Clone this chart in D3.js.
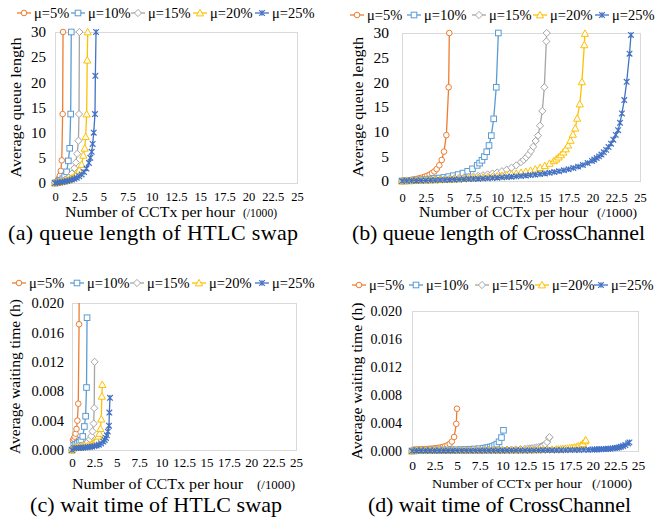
<!DOCTYPE html>
<html lang="en">
<head>
<meta charset="UTF-8" />
<title>Queue length and waiting time: HTLC swap vs CrossChannel</title>
<script src="https://d3js.org/d3.v7.min.js"></script>
<style>
  body { margin: 0; background: #fff; }
  svg { display: block; }
  text { fill: #000; font-family: "Liberation Serif", "Times New Roman", serif; }
  .frame { fill: none; stroke: #d9d9d9; stroke-width: 1; }
</style>
</head>
<body>
<svg id="chart" width="656" height="521" font-family="Liberation Serif"></svg>
<script>
// series names / colours (Excel default palette)
const seriesNames = ["μ=5%", "μ=10%", "μ=15%", "μ=20%", "μ=25%"];
const seriesColors = ["#ED7D31", "#5B9BD5", "#A5A5A5", "#FFC000", "#4472C4"];
const seriesShapes = ["circle", "square", "diamond", "triangle", "star"];

const xTicks = [0, 2.5, 5, 7.5, 10, 12.5, 15, 17.5, 20, 22.5, 25];
const queueTicks = [0, 5, 10, 15, 20, 25, 30];
const waitTicks = [0, 0.004, 0.008, 0.012, 0.016, 0.020];

// ---- HTLC swap: x = CCTx per hour (/1000), Q = avg queue length, W = avg waiting time (h)
const htlcX5 = [0, 0.1, 0.2, 0.3, 0.4, 0.5, 0.6, 0.7, 0.79, 0.83];
const htlcQ5 = [0, 0.13, 0.31, 0.55, 0.89, 1.43, 2.4, 4.5, 13.7, 30];
const htlcW5 = [0, 0.00133, 0.00154, 0.00182, 0.00222, 0.00286, 0.0040, 0.0063, 0.0171, 0.036];

const htlcX10 = [0, 0.2, 0.4, 0.6, 0.8, 1.0, 1.2, 1.38, 1.52, 1.62, 1.68];
const htlcQ10 = [0, 0.13, 0.30, 0.53, 0.85, 1.35, 2.22, 4.4, 6.9, 13.7, 30];
const htlcW10 = [0, 0.00065, 0.00075, 0.00088, 0.00106, 0.00135, 0.00185, 0.0032, 0.0046, 0.0085, 0.0180];

const htlcX15 = [0, 0.25, 0.5, 0.75, 1.0, 1.25, 1.5, 1.75, 2.0, 2.15, 2.29, 2.42, 2.48, 2.52];
const htlcQ15 = [0, 0.10, 0.23, 0.39, 0.60, 0.87, 1.27, 1.88, 2.94, 4.06, 5.8, 8.4, 13.7, 30];
const htlcW15 = [0, 0.00041, 0.00046, 0.00052, 0.0006, 0.0007, 0.00085, 0.00107, 0.00147, 0.00189, 0.00253, 0.0036, 0.0057, 0.012];

const htlcX20 = [0, 0.25, 0.5, 0.75, 1.0, 1.25, 1.5, 1.75, 2.0, 2.25, 2.5, 2.75, 2.93, 3.07, 3.17, 3.27, 3.33, 3.38];
const htlcQ20 = [0, 0.08, 0.17, 0.27, 0.40, 0.56, 0.75, 1.0, 1.33, 1.8, 2.5, 3.67, 5.5, 6.9, 9.2, 13.7, 24.4, 30];
const htlcW20 = [0, 0.00031, 0.00033, 0.00036, 0.0004, 0.00044, 0.0005, 0.00057, 0.00067, 0.0008, 0.001, 0.00133, 0.00188, 0.00225, 0.0029, 0.0042, 0.0073, 0.0089];

const htlcX25 = [0, 0.25, 0.5, 0.75, 1.0, 1.25, 1.5, 1.75, 2.0, 2.25, 2.5, 2.75, 3.0, 3.25, 3.5, 3.65, 3.79, 3.89, 4.0, 4.13, 4.17, 4.24];
const htlcQ25 = [0, 0.06, 0.13, 0.21, 0.30, 0.40, 0.52, 0.67, 0.84, 1.06, 1.33, 1.69, 2.17, 2.88, 3.98, 5.0, 6.2, 7.75, 10, 13.7, 21.3, 30];
const htlcW25 = [0, 0.00024, 0.00026, 0.00028, 0.0003, 0.00032, 0.00035, 0.00038, 0.00042, 0.00047, 0.00053, 0.00061, 0.00072, 0.00089, 0.00114, 0.00137, 0.00164, 0.002, 0.0025, 0.0033, 0.0051, 0.0071];

// ---- CrossChannel
const ccX5 = [0, 0.15, 0.4, 0.65, 0.9, 1.15, 1.4, 1.65, 1.9, 2.15, 2.4, 2.65, 2.9, 3.15, 3.4, 3.64, 3.92, 4.17, 4.41, 4.66, 4.9, 4.97];
const ccQ5 = [0, 0.03, 0.08, 0.14, 0.21, 0.29, 0.37, 0.47, 0.59, 0.72, 0.87, 1.06, 1.29, 1.58, 1.94, 2.41, 3.19, 4.26, 5.96, 9.3, 19, 30];
const ccW5 = [0, 0.0002, 0.00021, 0.00022, 0.00024, 0.00025, 0.00027, 0.00029, 0.00031, 0.00033, 0.00036, 0.0004, 0.00045, 0.0005, 0.00057, 0.00066, 0.00081, 0.00102, 0.00135, 0.002, 0.00388, 0.00604];

const ccX10 = [0, 0.4, 0.9, 1.4, 1.9, 2.4, 2.9, 3.4, 3.9, 4.4, 4.9, 5.4, 5.9, 6.4, 6.9, 7.4, 7.9, 8.15, 8.4, 8.65, 8.9, 9.14, 9.38, 9.63, 9.9, 10.12];
const ccQ10 = [0, 0.04, 0.1, 0.16, 0.22, 0.3, 0.39, 0.49, 0.6, 0.73, 0.89, 1.08, 1.31, 1.6, 1.97, 2.47, 3.16, 3.62, 4.2, 4.94, 5.93, 7.2, 9.2, 12.6, 19, 30];
const ccW10 = [0, 0.0001, 0.000106, 0.000111, 0.000118, 0.000125, 0.000133, 0.000143, 0.000154, 0.000167, 0.000182, 0.0002, 0.000222, 0.00025, 0.000286, 0.000334, 0.0004, 0.000444, 0.0005, 0.000571, 0.000666, 0.00079, 0.00098, 0.00131, 0.00192, 0.00296];

const ccX15 = [0, 0.5, 1, 1.5, 2, 2.5, 3, 3.5, 4, 4.5, 5, 5.5, 6, 6.5, 7, 7.5, 8, 8.5, 9, 9.5, 10, 10.5, 11, 11.5, 12, 12.5,
  12.79, 13.04, 13.29, 13.54, 13.79, 14.04, 14.29, 14.5, 14.74, 14.95, 15.16, 15.2];
const ccQ15 = [0, 0.033, 0.068, 0.105, 0.145, 0.188, 0.235, 0.285, 0.34, 0.399, 0.464, 0.536, 0.614, 0.701, 0.798, 0.907, 1.03, 1.17, 1.33, 1.52, 1.73, 1.99, 2.31, 2.69, 3.18, 3.82,
  4.29, 4.78, 5.36, 6.07, 6.96, 8.12, 9.2, 11.2, 14.2, 19, 28.3, 30];
const ccW15 = [0, 0.000066, 0.000068, 0.00007, 0.0000725, 0.000075, 0.000078, 0.000081, 0.000085, 0.0000887, 0.0000928, 0.0000975, 0.000102, 0.000108, 0.000114, 0.000121, 0.000129, 0.000138, 0.000148, 0.00016, 0.000173, 0.00019, 0.00021, 0.000234, 0.000265, 0.000306,
  0.000335, 0.000367, 0.000403, 0.000448, 0.000505, 0.000578, 0.000644, 0.000772, 0.000963, 0.00127, 0.00187, 0.00197];

const ccX20 = [0, 0.5, 1, 1.5, 2, 2.5, 3, 3.5, 4, 4.5, 5, 5.5, 6, 6.5, 7, 7.5, 8, 8.5, 9, 9.5, 10, 10.5, 11, 11.5, 12, 12.5, 13, 13.5, 14, 14.5, 15, 15.5,
  15.95, 16.2, 16.45, 16.7, 16.95, 17.2, 17.45, 17.7, 17.95, 18.2, 18.4, 18.67, 18.9, 19.15, 19.22];
const ccQ20 = [0, 0.026, 0.053, 0.082, 0.112, 0.144, 0.178, 0.214, 0.252, 0.293, 0.337, 0.383, 0.433, 0.487, 0.545, 0.607, 0.675, 0.749, 0.829, 0.918, 1.02, 1.12, 1.24, 1.38, 1.53, 1.7, 1.9, 2.13, 2.39, 2.71, 3.09, 3.56,
  4.09, 4.44, 4.84, 5.3, 5.84, 6.49, 7.27, 8.23, 9.45, 10.7, 12.7, 15.6, 20.1, 27.6, 29.9];
const ccW20 = [0, 0.000052, 0.000053, 0.0000547, 0.000056, 0.0000576, 0.0000593, 0.0000611, 0.000063, 0.0000651, 0.0000674, 0.0000696, 0.0000722, 0.0000749, 0.0000779, 0.0000809, 0.0000844, 0.0000881, 0.0000921, 0.0000966, 0.000102, 0.000107, 0.000113, 0.00012, 0.000128, 0.000136, 0.000146, 0.000158, 0.000171, 0.000187, 0.000206, 0.00023,
  0.000256, 0.000274, 0.000294, 0.000317, 0.000345, 0.000377, 0.000417, 0.000465, 0.000526, 0.000588, 0.00069, 0.000836, 0.00106, 0.00144, 0.00156];

const ccX25 = [0, 0.5, 1, 1.5, 2, 2.5, 3, 3.5, 4, 4.5, 5, 5.5, 6, 6.5, 7, 7.5, 8, 8.5, 9, 9.5, 10, 10.5, 11, 11.5, 12, 12.5, 13, 13.5, 14, 14.5, 15, 15.5, 16, 16.5, 17, 17.5, 18, 18.5, 19, 19.5,
  19.95, 20.2, 20.45, 20.7, 20.95, 21.2, 21.45, 21.7, 21.95, 22.2, 22.45, 22.7, 22.9, 23.1, 23.35, 23.6, 23.9, 24.05];
const ccQ25 = [0, 0.0205, 0.042, 0.064, 0.0875, 0.112, 0.137, 0.164, 0.192, 0.221, 0.252, 0.284, 0.318, 0.354, 0.392, 0.432, 0.475, 0.52, 0.568, 0.619, 0.673, 0.732, 0.794, 0.862, 0.934, 1.01, 1.1, 1.19, 1.29, 1.4, 1.52, 1.66, 1.81, 1.98, 2.17, 2.38, 2.63, 2.91, 3.25, 3.64,
  4.07, 4.34, 4.65, 4.99, 5.37, 5.81, 6.31, 6.89, 7.57, 8.38, 9.35, 10.3, 11.8, 13.7, 16.4, 20.1, 25.8, 29.6];
const ccW25 = [0, 0.000041, 0.000042, 0.0000427, 0.0000438, 0.0000448, 0.0000457, 0.0000469, 0.000048, 0.0000491, 0.0000504, 0.0000516, 0.000053, 0.0000545, 0.000056, 0.0000576, 0.0000594, 0.0000612, 0.0000631, 0.0000652, 0.0000673, 0.0000697, 0.0000722, 0.000075, 0.0000778, 0.0000808, 0.0000846, 0.0000881, 0.0000921, 0.0000966, 0.000101, 0.000107, 0.000113, 0.00012, 0.000128, 0.000136, 0.000146, 0.000157, 0.000171, 0.000187,
  0.000204, 0.000215, 0.000227, 0.000241, 0.000256, 0.000274, 0.000294, 0.000318, 0.000345, 0.000377, 0.000416, 0.000454, 0.000515, 0.000593, 0.000702, 0.000852, 0.00108, 0.00123];

const htlcX = [htlcX5, htlcX10, htlcX15, htlcX20, htlcX25];
const ccX = [ccX5, ccX10, ccX15, ccX20, ccX25];

// panel layout
const panels = [
  { box: [55, 32, 297, 183], xs: htlcX, ys: [htlcQ5, htlcQ10, htlcQ15, htlcQ20, htlcQ25],
    yTicks: queueTicks, yFmt: d3.format("d"), yFont: 15, yGap: 9,
    xFont: 12.5, xTickBase: 201,
    yTitle: "Average queue length", yTitleX: 16, yTitleLen: 140,
    xTitle: [65, 217, 170, 14], unit: [243, 217, 34, 11.5],
    caption: "(a) queue length of HTLC swap", capX: 8, capBase: 240, capLen: 290,
    legY: 13, legX: [17, 71, 131, 193, 255] },
  { box: [402, 33, 640, 181], xs: ccX, ys: [ccQ5, ccQ10, ccQ15, ccQ20, ccQ25],
    yTicks: queueTicks, yFmt: d3.format("d"), yFont: 15.5, yGap: 13,
    xFont: 12.5, xTickBase: 202,
    yTitle: "Average queue length", yTitleX: 358, yTitleLen: 140,
    xTitle: [419, 217, 169, 14], unit: [597, 217, 40, 13.5],
    caption: "(b) queue length of CrossChannel", capX: 352, capBase: 240, capLen: 293,
    legY: 15, legX: [350, 407, 472, 533, 595] },
  { box: [72, 303, 296, 450], xs: htlcX, ys: [htlcW5, htlcW10, htlcW15, htlcW20, htlcW25],
    yTicks: waitTicks, yFmt: d3.format(".3f"), yFont: 14.5, yGap: 8,
    xFont: 13, xTickBase: 467,
    yTitle: "Average waiting time (h)", yTitleX: 15, yTitleLen: 155,
    xTitle: [72, 489, 171, 14], unit: [257, 489, 38, 13],
    caption: "(c) wait time of HTLC swap", capX: 30, capBase: 512, capLen: 252,
    legY: 283, legX: [12, 70, 130, 192, 255] },
  { box: [412, 311, 638, 451], xs: ccX, ys: [ccW5, ccW10, ccW15, ccW20, ccW25],
    yTicks: waitTicks, yFmt: d3.format(".3f"), yFont: 14, yGap: 10,
    xFont: 13.5, xTickBase: 470,
    yTitle: "Average waiting time (h)", yTitleX: 357, yTitleLen: 157,
    xTitle: [432, 488, 150, 13.5], unit: [592, 488, 40, 13.5],
    caption: "(d) wait time of CrossChannel", capX: 368, capBase: 512, capLen: 263,
    legY: 285, legX: [352, 409, 475, 535, 594] }
];

const FONT = "Liberation Serif";
const svg = d3.select("#chart");

function drawMarker(g, shape, color, x, y) {
  const s = 2.8;
  if (shape === "circle") {
    g.append("circle").attr("cx", x).attr("cy", y).attr("r", s)
      .attr("fill", "#fff").attr("stroke", color).attr("stroke-width", 1);
  } else if (shape === "square") {
    g.append("rect").attr("x", x - s).attr("y", y - s).attr("width", 2 * s).attr("height", 2 * s)
      .attr("fill", "#fff").attr("stroke", color).attr("stroke-width", 1);
  } else if (shape === "diamond") {
    const r = s + 0.8;
    g.append("path").attr("d", `M${x},${y - r}L${x + r},${y}L${x},${y + r}L${x - r},${y}Z`)
      .attr("fill", "#fff").attr("stroke", color).attr("stroke-width", 1);
  } else if (shape === "triangle") {
    const r = s + 0.8;
    g.append("path").attr("d", `M${x},${y - r}L${x + r},${y + r * 0.8}L${x - r},${y + r * 0.8}Z`)
      .attr("fill", "#fff").attr("stroke", color).attr("stroke-width", 1);
  } else {
    g.append("path")
      .attr("d", `M${x - s},${y - s}L${x + s},${y + s}M${x - s},${y + s}L${x + s},${y - s}M${x},${y - s}L${x},${y + s}`)
      .attr("fill", "none").attr("stroke", color).attr("stroke-width", 1.2);
  }
}

panels.forEach((p, pi) => {
  const [x0, y0, x1, y1] = p.box;
  const yMax = p.yTicks[p.yTicks.length - 1];
  const x = d3.scaleLinear().domain([0, 25]).range([x0, x1]);
  const y = d3.scaleLinear().domain([0, yMax]).range([y1, y0]);

  const g = svg.append("g");
  g.append("rect").attr("class", "frame")
    .attr("x", x0 + 0.5).attr("y", y0 + 0.5).attr("width", x1 - x0).attr("height", y1 - y0);

  g.append("clipPath").attr("id", "clip" + pi)
    .append("rect").attr("x", x0).attr("y", y0).attr("width", x1 - x0 + 1).attr("height", y1 - y0 + 1);

  // y axis labels
  const ya = g.append("g").attr("transform", `translate(${x0 - p.yGap + 3},0)`)
    .call(d3.axisLeft(y).tickValues(p.yTicks).tickSize(0).tickPadding(3).tickFormat(p.yFmt));
  ya.attr("font-family", FONT).attr("font-size", p.yFont);
  ya.select(".domain").remove();
  ya.selectAll("text").attr("font-family", FONT).attr("font-size", p.yFont);

  // x axis labels
  const xa = g.append("g").attr("transform", `translate(0,${p.xTickBase})`)
    .call(d3.axisBottom(x).tickValues(xTicks).tickSize(0).tickPadding(0).tickFormat(d3.format("")));
  xa.attr("font-family", FONT).attr("font-size", p.xFont);
  xa.select(".domain").remove();
  xa.selectAll("text").attr("dy", 0).attr("y", 0).attr("font-family", FONT).attr("font-size", p.xFont);

  // series
  const line = d3.line().x(d => x(d[0])).y(d => y(d[1]));
  const plot = g.append("g");
  seriesNames.forEach((name, si) => {
    const xs = p.xs[si], ys = p.ys[si];
    const pts = xs.map((v, i) => [v, ys[i]]).filter(d => d[1] !== undefined);
    plot.append("path").datum(pts)
      .attr("d", line)
      .attr("clip-path", `url(#clip${pi})`)
      .attr("fill", "none")
      .attr("stroke", seriesColors[si])
      .attr("stroke-width", 1.3);
    const mg = plot.append("g");
    pts.filter(d => d[1] <= yMax).forEach(d => drawMarker(mg, seriesShapes[si], seriesColors[si], x(d[0]), y(d[1])));
  });

  // legend
  const lg = svg.append("g");
  seriesNames.forEach((name, si) => {
    const lx = p.legX[si];
    lg.append("line").attr("x1", lx).attr("x2", lx + 14).attr("y1", p.legY).attr("y2", p.legY)
      .attr("stroke", seriesColors[si]).attr("stroke-width", 1.3);
    drawMarker(lg, seriesShapes[si], seriesColors[si], lx + 7, p.legY);
    lg.append("text").attr("x", lx + 17).attr("y", p.legY + 5)
      .attr("font-family", FONT).attr("font-size", 14.5).text(name);
  });

  // axis titles
  const yc = (y0 + y1) / 2;
  svg.append("text")
    .attr("transform", `translate(${p.yTitleX + 5},${yc}) rotate(-90)`)
    .attr("text-anchor", "middle")
    .attr("font-family", FONT).attr("font-size", 15.5)
    .attr("textLength", p.yTitleLen).attr("lengthAdjust", "spacingAndGlyphs")
    .text(p.yTitle);

  svg.append("text").attr("x", p.xTitle[0]).attr("y", p.xTitle[1])
    .attr("font-family", FONT).attr("font-size", p.xTitle[3])
    .attr("textLength", p.xTitle[2]).attr("lengthAdjust", "spacingAndGlyphs")
    .text("Number of CCTx per hour");
  svg.append("text").attr("x", p.unit[0]).attr("y", p.unit[1])
    .attr("font-family", FONT).attr("font-size", p.unit[3])
    .attr("textLength", p.unit[2]).attr("lengthAdjust", "spacingAndGlyphs")
    .text("(/1000)");

  svg.append("text").attr("x", p.capX).attr("y", p.capBase)
    .attr("font-family", FONT).attr("font-size", 22)
    .attr("textLength", p.capLen).attr("lengthAdjust", "spacing")
    .text(p.caption);
});
</script>
</body>
</html>
